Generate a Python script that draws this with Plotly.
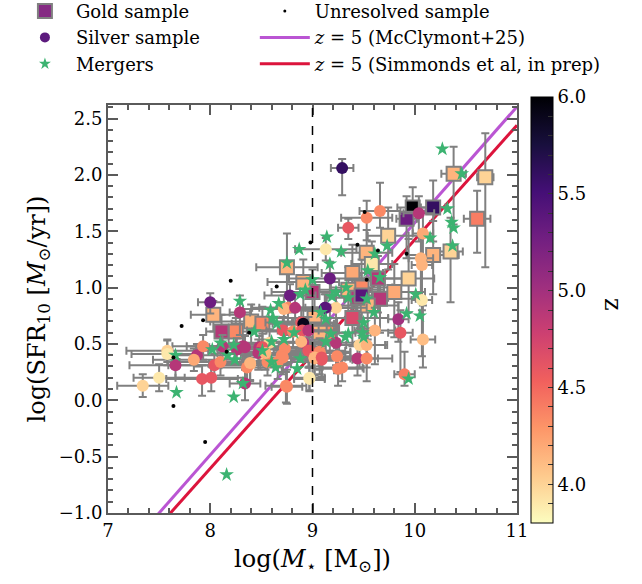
import numpy as np
import plotly.graph_objects as go

# ---------------- data ----------------
# Gold sample: log M*, log SFR10, z, x-error, y-error (low / high)
gold_x = [9.98, 10.18, 9.92, 10.38, 10.69, 10.61, 9.74, 9.53, 10.35, 10.18, 9.58, 9.39, 9.94,
          9.80, 9.66, 9.48, 9.00, 8.91, 8.75, 8.03, 8.11, 8.25, 8.40, 8.51, 9.39, 9.17, 9.02,
          9.07, 9.54, 9.35, 9.44, 9.64, 9.48]
gold_y = [1.71, 1.71, 1.61, 2.01, 1.98, 1.61, 1.46, 1.31, 1.32, 1.29, 1.21, 1.13, 1.08,
          0.96, 0.90, 1.00, 0.96, 1.05, 1.18, 0.76, 0.61, 0.61, 0.70, 0.68, 0.73, 0.60, 0.73,
          0.60, 0.84, 0.98, 0.91, 1.08, 0.93]
gold_z = [6.0, 5.6, 5.3, 4.15, 4.0, 4.4, 4.0, 4.15, 4.0, 4.15, 3.9, 4.2, 4.0,
          4.2, 4.9, 4.35, 4.9, 4.15, 4.15, 4.15, 4.9, 4.35, 4.15, 4.35, 4.7, 4.35, 4.15,
          4.15, 4.15, 4.15, 4.9, 4.9, 5.4]
gold_xerr = [0.15, 0.12, 0.10, 0.12, 0.08, 0.13, 0.20, 0.25, 0.12, 0.25, 0.20, 0.30, 0.25,
             0.30, 0.35, 0.30, 0.40, 0.35, 0.30, 0.22, 0.15, 0.15, 0.40, 0.30, 0.35, 0.40, 0.45,
             0.35, 0.30, 0.35, 0.30, 0.25, 0.25]
gold_ylo = [0.25, 0.30, 0.35, 0.45, 0.80, 0.30, 0.30, 0.25, 0.45, 0.35, 0.30, 0.35, 0.30,
            0.40, 0.30, 0.35, 0.30, 0.25, 0.25, 0.15, 0.15, 0.15, 0.20, 0.20, 0.25, 0.25, 0.25,
            0.30, 0.30, 0.25, 0.30, 0.30, 0.30]
gold_yhi = [0.18, 0.24, 0.20, 0.24, 0.39, 0.25, 0.25, 0.20, 0.30, 0.30, 0.20, 0.25, 0.35,
            0.25, 0.20, 0.25, 0.20, 0.20, 0.30, 0.12, 0.15, 0.12, 0.15, 0.15, 0.20, 0.20, 0.20,
            0.20, 0.25, 0.20, 0.20, 0.20, 0.20]

# Silver sample
silver_x = [9.29, 9.66, 9.53, 9.35, 10.04, 10.08, 9.13, 10.06, 10.07, 10.07, 9.17, 8.00, 8.29,
            7.58, 7.58, 7.66, 7.87, 7.84, 7.93, 7.50, 7.34, 7.92, 8.01, 8.04, 8.10, 8.12, 8.26,
            8.32, 8.34, 8.39, 8.36, 8.48, 8.52, 8.56, 8.66, 8.74, 8.97, 8.97, 8.73, 8.76, 8.72,
            8.78, 9.84, 9.86, 10.08, 9.90, 9.44, 9.53, 9.25, 9.07, 9.02, 9.09, 9.23, 9.46, 9.53,
            9.61, 9.23, 9.13, 8.83, 9.12, 8.89, 8.91, 8.71, 8.81, 8.90, 8.96, 8.91, 8.89, 8.96,
            9.07, 9.02, 9.09, 9.24, 9.29, 8.97, 8.75, 8.70, 8.58, 8.51, 8.47, 8.39, 8.34, 8.54,
            8.71]
silver_y = [2.06, 1.68, 1.62, 1.53, 1.66, 1.48, 1.34, 1.26, 1.20, 0.89, 1.08, 0.87, 0.78,
            0.44, 0.41, 0.31, 0.40, 0.36, 0.48, 0.20, 0.13, 0.19, 0.20, 0.31, 0.34, 0.48, 0.45,
            0.48, 0.15, 0.32, 0.29, 0.47, 0.41, 0.34, 0.34, 0.13, 0.19, 0.44, 0.46, 0.82, 0.81,
            0.93, 0.72, 0.60, 0.54, 0.23, 0.37, 0.37, 0.28, 0.42, 0.37, 0.36, 0.51, 0.49, 0.49,
            0.62, 0.82, 0.82, 0.82, 0.82, 0.69, 0.68, 0.62, 0.61, 0.62, 0.62, 0.51, 0.52, 0.44,
            0.43, 0.38, 0.38, 0.39, 0.29, 0.20, 0.12, 0.40, 0.51, 0.47, 0.42, 0.33, 0.47, 0.42,
            0.38]
silver_z = [5.6, 4.35, 4.35, 4.6, 4.9, 4.2, 3.9, 4.15, 4.15, 3.9, 5.3, 5.3, 4.9,
            4.0, 3.9, 4.9, 4.9, 4.2, 4.35, 3.9, 4.0, 4.6, 4.6, 4.6, 4.35, 4.9, 4.9,
            4.9, 4.9, 4.15, 4.35, 4.9, 4.0, 4.35, 4.35, 4.35, 3.9, 4.6, 4.35, 4.35, 4.15,
            5.3, 5.0, 4.6, 4.1, 4.4, 4.9, 4.35, 4.35, 4.35, 4.15, 4.6, 4.9, 4.0, 4.15,
            4.15, 4.0, 5.3, 4.9, 5.4, 4.6, 5.9, 4.6, 4.35, 4.6, 4.9, 4.9, 4.15, 4.6,
            4.35, 4.15, 4.6, 4.35, 4.35, 3.9, 4.35, 4.35, 4.0, 4.6, 4.9, 4.15, 4.9, 4.15,
            4.35]
silver_xerr = [0.11, 0.20, 0.25, 0.10, 0.15, 0.10, 0.30, 0.12, 0.10, 0.10, 0.40, 0.12, 0.10,
               0.40, 0.35, 0.45, 0.30, 0.40, 0.30, 0.25, 0.25, 0.35, 0.35, 0.45, 0.40, 0.35, 0.40,
               0.35, 0.15, 0.40, 0.35, 0.40, 0.35, 0.45, 0.40, 0.20, 0.15, 0.35, 0.40, 0.35, 0.40,
               0.25, 0.10, 0.12, 0.12, 0.10, 0.20, 0.25, 0.25, 0.30, 0.35, 0.30, 0.30, 0.25, 0.20,
               0.20, 0.30, 0.30, 0.35, 0.30, 0.35, 0.30, 0.35, 0.40, 0.35, 0.30, 0.35, 0.30, 0.30,
               0.30, 0.30, 0.35, 0.30, 0.20, 0.15, 0.15, 0.40, 0.40, 0.35, 0.40, 0.40, 0.35, 0.30,
               0.35]
silver_ylo = [0.24, 0.15, 0.20, 0.10, 0.25, 0.30, 0.10, 0.35, 0.40, 0.50, 0.15, 0.10, 0.20,
              0.10, 0.10, 0.12, 0.10, 0.10, 0.12, 0.12, 0.10, 0.15, 0.12, 0.12, 0.12, 0.12, 0.12,
              0.12, 0.15, 0.15, 0.12, 0.12, 0.12, 0.12, 0.15, 0.15, 0.10, 0.15, 0.15, 0.15, 0.15,
              0.15, 0.20, 0.35, 0.25, 0.10, 0.15, 0.20, 0.15, 0.15, 0.15, 0.15, 0.20, 0.20, 0.20,
              0.30, 0.15, 0.15, 0.15, 0.15, 0.15, 0.15, 0.15, 0.15, 0.15, 0.15, 0.15, 0.15, 0.15,
              0.20, 0.20, 0.20, 0.15, 0.12, 0.12, 0.15, 0.15, 0.15, 0.15, 0.15, 0.15, 0.12, 0.15,
              0.15]
silver_yhi = [0.08, 0.25, 0.15, 0.08, 0.15, 0.20, 0.10, 0.20, 0.25, 0.30, 0.15, 0.08, 0.15,
              0.10, 0.12, 0.10, 0.10, 0.10, 0.10, 0.12, 0.10, 0.12, 0.10, 0.10, 0.10, 0.10, 0.10,
              0.10, 0.12, 0.10, 0.10, 0.10, 0.10, 0.12, 0.12, 0.12, 0.10, 0.12, 0.12, 0.12, 0.12,
              0.10, 0.15, 0.20, 0.30, 0.20, 0.15, 0.15, 0.15, 0.12, 0.15, 0.12, 0.15, 0.15, 0.15,
              0.20, 0.15, 0.12, 0.12, 0.12, 0.12, 0.12, 0.12, 0.12, 0.12, 0.12, 0.12, 0.12, 0.12,
              0.12, 0.12, 0.12, 0.12, 0.12, 0.10, 0.15, 0.12, 0.12, 0.12, 0.12, 0.10, 0.10, 0.12,
              0.12]

# Mergers
merger_x = [10.27, 10.46, 10.32, 10.36, 10.38, 10.15, 10.37, 9.73, 9.14, 9.28, 9.61, 10.01, 9.17,
            9.54, 9.66, 9.00, 8.87, 8.75, 8.29, 8.88, 7.66, 7.67, 8.23, 8.16, 8.32, 8.10, 8.02,
            8.23, 8.17, 8.24, 8.43, 8.51, 8.59, 8.61, 8.65, 8.67, 8.60, 8.64, 8.72, 8.82, 8.85,
            8.88, 8.60, 9.92, 10.05, 9.94, 9.33, 9.23, 9.19, 9.35, 9.53, 9.60, 9.50, 9.49, 9.50,
            9.35, 9.32, 9.18, 9.13, 9.08, 9.13, 8.93]
merger_y = [2.23, 2.01, 1.70, 1.58, 1.53, 1.44, 1.37, 1.37, 1.45, 1.32, 1.30, 0.94, 1.21,
            1.15, 1.09, 1.07, 1.34, 1.22, 0.88, 0.94, 0.40, 0.07, 0.03, -0.66, 0.15, 0.51, 0.45,
            0.49, 0.40, 0.36, 0.61, 0.44, 0.80, 0.73, 0.68, 0.86, 0.34, 0.29, 0.54, 0.60, 0.28,
            0.37, 0.52, 0.77, 0.75, 0.19, 1.00, 0.96, 0.92, 0.91, 0.90, 0.78, 0.69, 0.60, 0.56,
            0.59, 0.56, 0.59, 0.52, 0.78, 0.72, 0.98]

# Unresolved sample
unres_x = [8.98, 8.20, 8.65, 7.72, 7.93, 8.38, 7.64, 7.95, 7.64, 9.44, 9.64, 9.92, 9.51, 8.16, 9.53]
unres_y = [1.40, 1.06, 1.01, 0.66, 0.71, 0.60, -0.05, -0.37, 0.38, 1.38, 1.33, 1.30, 1.67, 0.43, 1.07]

# z = 5 main-sequence relations: slope, normalisation at log M* = 9
mcclymont_slope, mcclymont_norm = 1.03, 0.545
simmonds_slope, simmonds_norm = 1.015, 0.41
mass_cut = 9.0

x_range = [7, 11]
y_range = [-1.0, 2.62]
z_range = [3.8, 6.0]
cbar_ticks = [3.8, 3.9, 4.0, 4.1, 4.2, 4.3, 4.4, 4.5, 4.6, 4.7, 4.8, 4.9,
              5.0, 5.1, 5.2, 5.3, 5.4, 5.5, 5.6, 5.7, 5.8, 5.9, 6.0]
cbar_labels = ["4.0", "4.5", "5.0", "5.5", "6.0"]

# ---------------- figure ----------------
SERIF = "DejaVu Serif"
GREY = "#808080"
AX = "#5a5a5a"
cscale = "magma_r"

fig = go.Figure()

mgrid = np.linspace(x_range[0], x_range[1], 50)
fig.add_trace(go.Scatter(x=mgrid, y=mcclymont_slope * (mgrid - 9) + mcclymont_norm, mode="lines",
                         line=dict(color="#BA55D3", width=3), showlegend=False))
fig.add_trace(go.Scatter(x=mgrid, y=simmonds_slope * (mgrid - 9) + simmonds_norm, mode="lines",
                         line=dict(color="#DC143C", width=3), showlegend=False))

err_style = dict(type="data", color=GREY, thickness=2, width=4)

fig.add_trace(go.Scatter(
    x=gold_x, y=gold_y, mode="markers", showlegend=False,
    error_x=dict(array=gold_xerr, **err_style),
    error_y=dict(symmetric=False, array=gold_yhi, arrayminus=gold_ylo, **err_style),
    marker=dict(symbol="square", size=14, color=gold_z, colorscale=cscale,
                cmin=z_range[0], cmax=z_range[1], line=dict(color=GREY, width=2),
                colorbar=dict(thickness=22, lenmode="pixels", len=426, x=1.034, xanchor="left",
                              xpad=0, ypad=0,
                              y=0.4975, yanchor="middle", outlinewidth=1, outlinecolor="black",
                              tickvals=cbar_ticks,
                              ticktext=[("%.1f" % v) if ("%.1f" % v) in cbar_labels else " "
                                        for v in cbar_ticks],
                              ticks="inside", ticklen=5, tickcolor="#333",
                              tickfont=dict(family=SERIF, size=18, color="black")))))

fig.add_trace(go.Scatter(
    x=silver_x, y=silver_y, mode="markers", showlegend=False,
    error_x=dict(array=silver_xerr, **err_style),
    error_y=dict(symmetric=False, array=silver_yhi, arrayminus=silver_ylo, **err_style),
    marker=dict(symbol="circle", size=12, color=silver_z, colorscale=cscale,
                cmin=z_range[0], cmax=z_range[1], line=dict(width=0))))

fig.add_trace(go.Scatter(x=merger_x, y=merger_y, mode="markers", showlegend=False,
                         marker=dict(symbol="star", size=11, color="#3CB371", line=dict(width=0))))
fig.add_trace(go.Scatter(x=unres_x, y=unres_y, mode="markers", showlegend=False,
                         marker=dict(symbol="circle", size=4, color="black")))

fig.add_vline(x=mass_cut, line=dict(color="black", width=1.5, dash="dash"))

# invisible trace so the mirrored top/right axes are drawn
fig.add_trace(go.Scatter(x=[None], y=[None], xaxis="x2", yaxis="y2", showlegend=False,
                         hoverinfo="skip"))

# legend entries
fig.add_trace(go.Scatter(x=[None], y=[None], mode="markers", name="Gold sample", legend="legend",
                         marker=dict(symbol="square", size=14, color="#852a83",
                                     line=dict(color=GREY, width=2))))
fig.add_trace(go.Scatter(x=[None], y=[None], mode="markers", name="Silver sample", legend="legend",
                         marker=dict(symbol="circle", size=10, color="#5c1a7d")))
fig.add_trace(go.Scatter(x=[None], y=[None], mode="markers", name="Mergers", legend="legend",
                         marker=dict(symbol="star", size=9, color="#3CB371")))
fig.add_trace(go.Scatter(x=[None], y=[None], mode="markers", name="Unresolved sample", legend="legend2",
                         marker=dict(symbol="circle", size=3, color="black")))
fig.add_trace(go.Scatter(x=[None], y=[None], mode="lines", name="<i>z</i> = 5 (McClymont+25)",
                         legend="legend2", line=dict(color="#BA55D3", width=3)))
fig.add_trace(go.Scatter(x=[None], y=[None], mode="lines", name="<i>z</i> = 5 (Simmonds et al, in prep)",
                         legend="legend2", line=dict(color="#DC143C", width=3)))

axis_common = dict(showline=True, linecolor=AX, linewidth=2, ticks="inside",
                   ticklen=10, tickwidth=1.5, tickcolor=AX, showgrid=False, zeroline=False,
                   tickfont=dict(family=SERIF, size=18, color="black"))

fig.update_layout(
    width=642, height=584, plot_bgcolor="white", paper_bgcolor="white",
    margin=dict(l=108, r=125, t=105, b=71, autoexpand=False),
    font=dict(family=SERIF, size=18, color="black"),
    xaxis=dict(range=x_range, dtick=1, tick0=7,
               minor=dict(dtick=0.2, ticks="inside", ticklen=5, tickcolor=AX, showgrid=False),
               title=dict(text="log(<i>M</i><sub>⋆</sub> [M<sub>⊙</sub>])",
                          font=dict(family=SERIF, size=24), standoff=11),
               **axis_common),
    yaxis=dict(range=y_range, dtick=0.5, tick0=0, tickformat=".1f",
               minor=dict(dtick=0.1, ticks="inside", ticklen=5, tickcolor=AX, showgrid=False),
               title=dict(text="log(SFR<sub>10</sub> [<i>M</i><sub>⊙</sub>/yr])",
                          font=dict(family=SERIF, size=24), standoff=6),
               **axis_common),
    xaxis2=dict(range=x_range, dtick=1, tick0=7, overlaying="x", side="top", anchor="y",
                showticklabels=False,
                minor=dict(dtick=0.2, ticks="inside", ticklen=5, tickcolor=AX, showgrid=False),
                **axis_common),
    yaxis2=dict(range=y_range, dtick=0.5, tick0=0, overlaying="y", side="right", anchor="x",
                showticklabels=False,
                minor=dict(dtick=0.1, ticks="inside", ticklen=5, tickcolor=AX, showgrid=False),
                **axis_common),
    legend=dict(x=-0.23, y=1.275, xanchor="left", yanchor="top", bgcolor="rgba(0,0,0,0)",
                font=dict(family=SERIF, size=18), tracegroupgap=0, itemwidth=52),
    legend2=dict(x=0.359, y=1.275, xanchor="left", yanchor="top", bgcolor="rgba(0,0,0,0)",
                 font=dict(family=SERIF, size=18), tracegroupgap=0, itemwidth=50),
    annotations=[dict(text="z", xref="paper", yref="paper", x=1.227, y=0.51,
                      xanchor="center", yanchor="middle", xshift=3,
                      showarrow=False, textangle=90, font=dict(family=SERIF, size=24, color="black"))],
)

fig.write_html("out.html", config={"displayModeBar": False},
               post_script="document.body.style.margin='0';")
